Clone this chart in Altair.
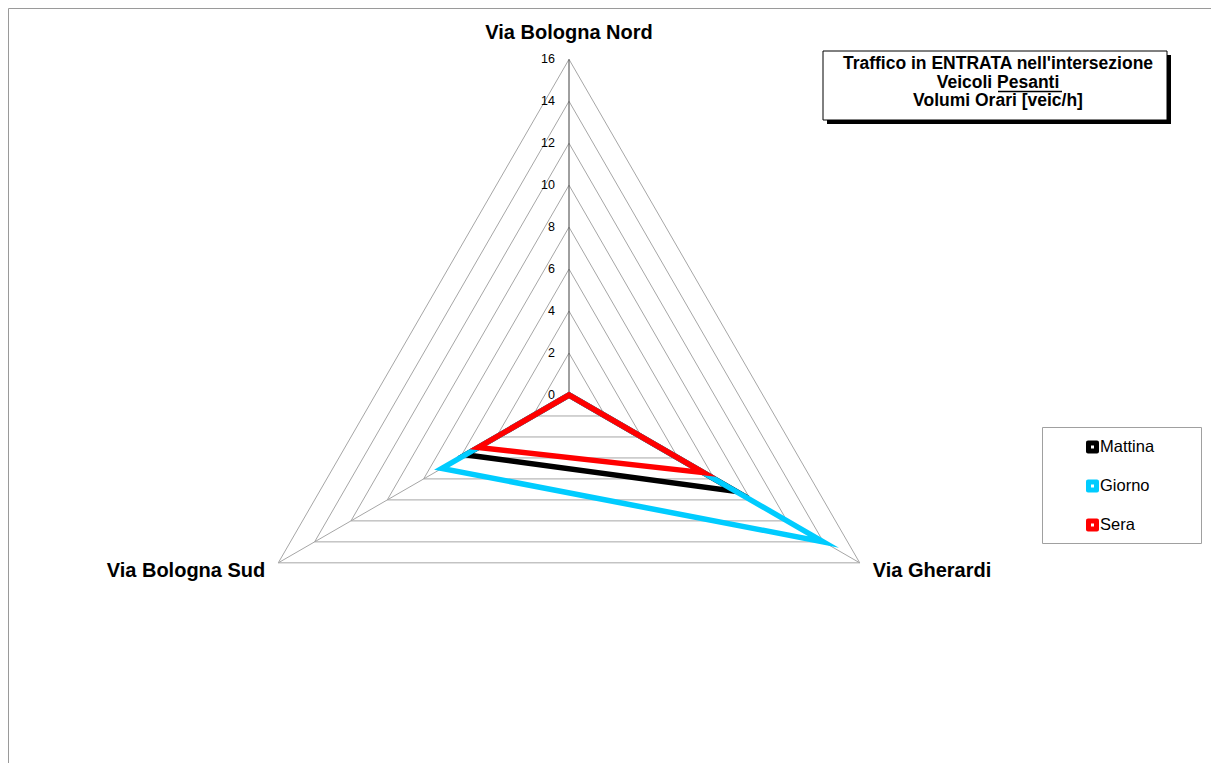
import math
import altair as alt
import pandas as pd

# ---------------- data ----------------
categories = ["Via Bologna Nord", "Via Gherardi", "Via Bologna Sud"]
angles_deg = [0, 120, 240]          # clockwise from top
mattina = [0, 9.2, 5.7]
giorno = [0, 14, 7]
sera = [0, 7.4, 5]
series_names = ["Mattina", "Giorno", "Sera"]
series_colors = ["#000000", "#00CCFF", "#FF0000"]
ticks = [0, 2, 4, 6, 8, 10, 12, 14, 16]
rmax = 16

# ---------------- layout ----------------
W, H = 1203, 755
CX, CY = 561, 387          # centre in view pixels
PX = 20.98                 # pixels per unit
FONT = "Liberation Sans"

xdom = [-CX / PX, (W - CX) / PX]
ydom = [-(H - CY) / PX, CY / PX]
xs = alt.Scale(domain=xdom, nice=False, zero=False)
ys = alt.Scale(domain=ydom, nice=False, zero=False)


def pt(v, a):
    r = math.radians(a)
    return v * math.sin(r), v * math.cos(r)


# series table
rows = []
for name, vals in zip(series_names, [mattina, giorno, sera]):
    for i, (v, a) in enumerate(zip(vals, angles_deg)):
        x, y = pt(v, a)
        rows.append({"serie": name, "i": i, "x": x, "y": y, "v": v})
sdf = pd.DataFrame(rows)

# grid rings
ring_rows = []
for t in ticks[1:]:
    for i, a in enumerate(angles_deg):
        x, y = pt(t, a)
        ring_rows.append({"ring": t, "i": i, "x": x, "y": y})
rdf = pd.DataFrame(ring_rows)

# spokes
spoke_rows = []
for c, a in zip(categories, angles_deg):
    x, y = pt(rmax, a)
    spoke_rows.append({"cat": c, "x0": 0.0, "y0": 0.0, "x": x, "y": y})
spdf = pd.DataFrame(spoke_rows)

tdf = pd.DataFrame({"t": ticks, "x": [0.0] * len(ticks), "lbl": [str(t) for t in ticks]})

X = lambda f: alt.X(f, type="quantitative", scale=xs, axis=None)
Y = lambda f: alt.Y(f, type="quantitative", scale=ys, axis=None)

rings = alt.Chart(rdf).mark_line(
    interpolate="linear-closed", color="#a6a6a6", strokeWidth=1
).encode(x=X("x"), y=Y("y"), detail="ring:N", order="i:Q")

spokes_side = alt.Chart(spdf[spdf["cat"] != categories[0]]).mark_rule(
    color="#a6a6a6", strokeWidth=1
).encode(x=X("x0"), y=Y("y0"), x2="x:Q", y2="y:Q")

spoke_main = alt.Chart(spdf[spdf["cat"] == categories[0]]).mark_rule(
    color="#404040", strokeWidth=1
).encode(x=X("x0"), y=Y("y0"), x2="x:Q", y2="y:Q")

tick_labels = alt.Chart(tdf).mark_text(
    align="right", baseline="middle", dx=-14, fontSize=12.5, font=FONT, color="#000"
).encode(x=X("x"), y=Y("t"), text="lbl:N")

series_layers = []
for name, col in zip(series_names, series_colors):
    series_layers.append(
        alt.Chart(sdf[sdf["serie"] == name]).mark_line(
            interpolate="linear-closed", color=col, strokeWidth=5.5,
            strokeJoin="miter", strokeMiterLimit=10
        ).encode(x=X("x"), y=Y("y"), order="i:Q")
    )

# category labels
cat_layers = []
offsets = [("center", 0, -26), ("left", 13, 8), ("right", -13, 8)]
for c, a, (al, dx, dy) in zip(categories, angles_deg, offsets):
    x, y = pt(rmax, a)
    cat_layers.append(
        alt.Chart(pd.DataFrame({"x": [x], "y": [y], "c": [c]})).mark_text(
            align=al, baseline="middle", dx=dx, dy=dy, fontSize=20,
            fontWeight="bold", font=FONT, color="#000"
        ).encode(x=X("x"), y=Y("y"), text="c:N")
    )

one = pd.DataFrame({"a": [0]})
O = 8  # page offset

def rect(x1, y1, x2, y2, **kw):
    return alt.Chart(one).mark_rect(**kw).encode(
        x=alt.value(x1 - O), x2=alt.value(x2 - O), y=alt.value(y1 - O), y2=alt.value(y2 - O))

def txt(s, x, y, **kw):
    return alt.Chart(one).mark_text(text=s, font=FONT, color="#000", baseline="middle", **kw).encode(
        x=alt.value(x - O), y=alt.value(y - O))

# frame (left & top edges)
frame = [
    alt.Chart(one).mark_rule(color="#9a9a9a", strokeWidth=1).encode(
        x=alt.value(0.5), x2=alt.value(W), y=alt.value(0.5)),
    alt.Chart(one).mark_rule(color="#9a9a9a", strokeWidth=1).encode(
        x=alt.value(0.5), y=alt.value(0.5), y2=alt.value(H)),
]

# title box
title_box = [
    rect(827, 55, 1171, 124, fill="#000000"),
    rect(823, 51, 1167, 120, fill="#ffffff", stroke="#000000", strokeWidth=1),
    txt("Traffico in ENTRATA nell'intersezione", 998, 64, align="center", fontSize=17.5, fontWeight="bold"),
    txt("Veicoli Pesanti", 998, 82.5, align="center", fontSize=17.5, fontWeight="bold"),
    txt("Volumi Orari [veic/h]", 998, 101, align="center", fontSize=17.5, fontWeight="bold"),
    alt.Chart(one).mark_rule(color="#000", strokeWidth=1.5).encode(
        x=alt.value(998 - O), x2=alt.value(1062 - O), y=alt.value(91.5 - O)),
]

# legend
legend = [rect(1042.5, 427.5, 1201.5, 543.5, fill="#ffffff", stroke="#a0a0a0", strokeWidth=1)]
for name, col, ly in zip(series_names, series_colors, [447, 486, 525]):
    legend.append(rect(1086, ly - 6.5, 1099, ly + 6.5, fill=col, cornerRadius=2))
    legend.append(rect(1091, ly - 1.5, 1094, ly + 1.5, fill="#ffffff"))
    legend.append(txt(name, 1100, ly, align="left", fontSize=16.5))

chart = alt.layer(
    *frame, rings, spokes_side, spoke_main, *series_layers, tick_labels,
    *cat_layers, *title_box, *legend
).properties(
    width=W, height=H, autosize=alt.AutoSizeParams(type="none"), padding=0
).configure_view(stroke=None)

chart.save("out.html", embed_options={"renderer": "svg", "actions": False})
